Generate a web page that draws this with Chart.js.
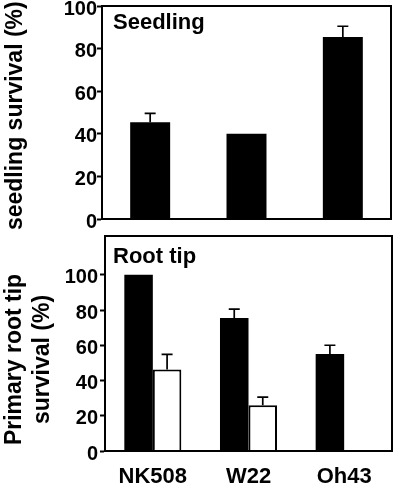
<!DOCTYPE html>
<html>
<head>
<meta charset="utf-8">
<script src="https://cdn.jsdelivr.net/npm/chart.js@4"></script>
<style>
  body { margin: 0; background: #fff; }
  canvas { display: block; }
</style>
</head>
<body>
<canvas id="seedling" width="400" height="232"></canvas>
<canvas id="roottip" width="400" height="257"></canvas>
<script>
// maize lines on the x axis
const lines = ['NK508', 'W22', 'Oh43'];

// top panel: seedling survival (%)
const seedlingSurvival = [45.4, 40, 85.5];
const seedlingError = [4.2, 0, 5];

// bottom panel: primary root tip survival (%), black and white bars
const rootTipBlack = [100, 75.5, 55];
const rootTipBlackError = [0, 5, 5];
const rootTipWhite = [46.3, 26, null];
const rootTipWhiteError = [8.5, 4.6, 0];

const yTicks = [0, 20, 40, 60, 80, 100];

const FONT = '"Liberation Sans", Arial, Helvetica, sans-serif';
Chart.defaults.font.family = FONT;
Chart.defaults.font.weight = 'bold';
Chart.defaults.color = '#000';

const frame = {
  id: 'frame',
  afterDraw(chart) {
    const { ctx, chartArea: a } = chart;
    ctx.save();
    ctx.strokeStyle = '#000';
    ctx.lineWidth = 2;
    ctx.strokeRect(a.left, a.top, a.right - a.left, a.bottom - a.top);
    ctx.restore();
  }
};

const errorBars = {
  id: 'errorBars',
  afterDatasetsDraw(chart) {
    const ctx = chart.ctx;
    const yScale = chart.scales.y;
    chart.data.datasets.forEach((ds, i) => {
      if (!ds.errors) return;
      const meta = chart.getDatasetMeta(i);
      meta.data.forEach((bar, j) => {
        const v = ds.data[j];
        const e = ds.errors[j];
        if (v == null || !e) return;
        const yTop = yScale.getPixelForValue(v + e);
        ctx.save();
        ctx.strokeStyle = '#000';
        ctx.lineWidth = 1.7;
        ctx.beginPath();
        ctx.moveTo(bar.x, bar.y);
        ctx.lineTo(bar.x, yTop);
        ctx.moveTo(bar.x - 5.5, yTop);
        ctx.lineTo(bar.x + 5.5, yTop);
        ctx.stroke();
        ctx.restore();
      });
    });
  }
};

const panelLabel = {
  id: 'panelLabel',
  afterDraw(chart, args, opts) {
    const { ctx, chartArea } = chart;
    ctx.save();
    ctx.font = 'bold 22px ' + FONT;
    ctx.fillStyle = '#000';
    ctx.textBaseline = 'alphabetic';
    ctx.fillText(opts.text, chartArea.left + opts.dx, chartArea.top + opts.dy);
    ctx.restore();
  }
};

function yAxis(max, width, labelPad, title, titlePad) {
  return {
    min: 0,
    max: max,
    afterBuildTicks: s => { s.ticks = yTicks.map(v => ({ value: v })); },
    afterFit: s => { s.width = width; s.paddingTop = 0; s.paddingBottom = 0; },
    ticks: { font: { size: 20, weight: 'bold' }, color: '#000', padding: labelPad, labelOffset: 3 },
    grid: { display: true, drawOnChartArea: false, drawTicks: true, tickLength: 5, tickWidth: 2, tickColor: '#000' },
    border: { display: true, color: '#000', width: 2 },
    title: {
      display: true,
      text: title,
      color: '#000',
      font: { size: 23, weight: 'bold', lineHeight: 1.25 },
      padding: { top: titlePad, bottom: 0 }
    }
  };
}

const nb = '\u00a0';

new Chart(document.getElementById('seedling'), {
  type: 'bar',
  data: {
    labels: lines,
    datasets: [{
      data: seedlingSurvival,
      errors: seedlingError,
      backgroundColor: '#000',
      borderWidth: 0,
      categoryPercentage: 1,
      barPercentage: 0.415
    }]
  },
  options: {
    responsive: false,
    animation: false,
    layout: { padding: { top: 6, right: 9, left: 0, bottom: 0 } },
    plugins: {
      legend: { display: false },
      tooltip: { enabled: false },
      panelLabel: { text: 'Seedling', dx: 11, dy: 23 }
    },
    scales: {
      x: {
        ticks: { display: false },
        grid: { display: false },
        border: { display: true, color: '#000', width: 2 },
        afterFit: s => { s.height = 13; s.paddingLeft = 0; s.paddingRight = 0; }
      },
      y: yAxis(100, 102, 0, ['seedling survival (%)' + nb], 1)
    }
  },
  plugins: [frame, errorBars, panelLabel]
});

new Chart(document.getElementById('roottip'), {
  type: 'bar',
  data: {
    labels: lines,
    datasets: [{
      data: rootTipBlack,
      errors: rootTipBlackError,
      backgroundColor: '#000',
      borderWidth: 0,
      categoryPercentage: 0.596,
      barPercentage: 1
    }, {
      data: rootTipWhite,
      errors: rootTipWhiteError,
      backgroundColor: '#fff',
      borderColor: '#000',
      borderWidth: 2,
      categoryPercentage: 0.596,
      barPercentage: 1
    }]
  },
  options: {
    responsive: false,
    animation: false,
    layout: { padding: { top: 4, right: 8, left: 0, bottom: 0 } },
    plugins: {
      legend: { display: false },
      tooltip: { enabled: false },
      panelLabel: { text: 'Root tip', dx: 8, dy: 27 }
    },
    scales: {
      x: {
        ticks: { font: { size: 22, weight: 'bold' }, color: '#000', padding: 5 },
        grid: { display: false },
        border: { display: true, color: '#000', width: 2 },
        afterFit: s => { s.height = 38; s.paddingLeft = 0; s.paddingRight = 0; }
      },
      y: yAxis(122, 105, 2, ['Primary root tip' + nb.repeat(5), 'survival (%)' + nb.repeat(5)], 0)
    }
  },
  plugins: [frame, errorBars, panelLabel]
});
</script>
</body>
</html>
